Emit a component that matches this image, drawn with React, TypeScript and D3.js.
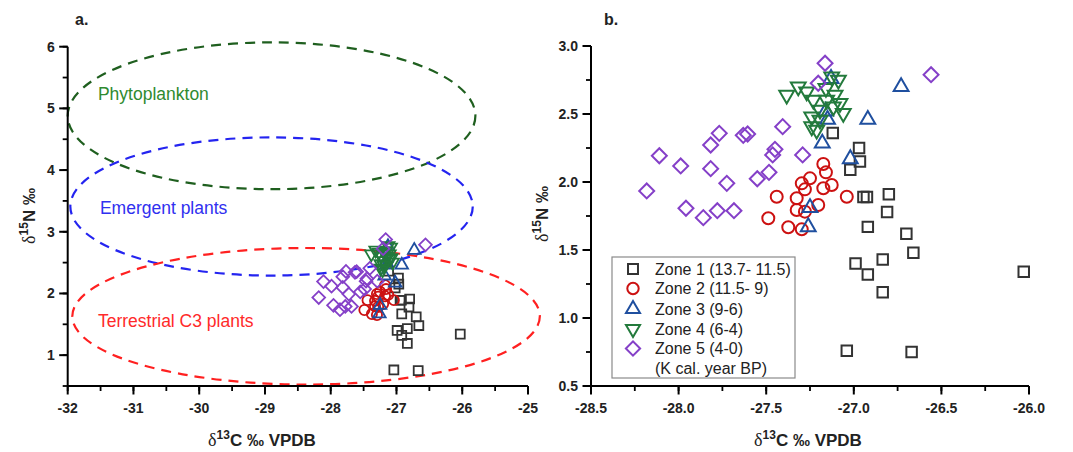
import React from 'react';
import * as d3 from 'd3';

// ---------------- data ----------------
const zone1X = [-27.12, -26.97, -26.965, -27.02, -26.945, -26.925, -26.8, -26.81, -26.92, -26.7, -26.66, -26.835, -26.99, -26.92, -26.835, -26.03, -27.04, -26.67];
const zone1Y = [2.36, 2.25, 2.15, 2.09, 1.89, 1.89, 1.91, 1.78, 1.67, 1.62, 1.48, 1.43, 1.4, 1.32, 1.19, 1.34, 0.76, 0.75];

const zone2X = [-27.174, -27.159, -27.25, -27.297, -27.279, -27.174, -27.126, -27.44, -27.326, -27.203, -27.326, -27.279, -27.488, -27.374, -27.297, -27.04];
const zone2Y = [2.132, 2.071, 2.027, 1.99, 1.946, 1.954, 1.978, 1.892, 1.88, 1.831, 1.794, 1.782, 1.733, 1.667, 1.652, 1.892];

const zone3X = [-26.73, -26.92, -27.18, -27.02, -27.15, -27.16, -27.25, -27.26, -27.13];
const zone3Y = [2.7, 2.46, 2.285, 2.17, 2.46, 2.52, 1.81, 1.67, 2.76];

const zone4X = [-27.383, -27.317, -27.269, -27.126, -27.088, -27.231, -27.193, -27.107, -27.079, -27.24, -27.24, -27.06, -27.155, -27.117, -27.212, -27.159, -27.193];
const zone4Y = [2.64, 2.7, 2.664, 2.774, 2.75, 2.603, 2.529, 2.64, 2.579, 2.48, 2.407, 2.505, 2.603, 2.554, 2.382, 2.69, 2.456];

const zone5X = [-28.182, -28.11, -27.988, -27.817, -27.768, -27.817, -27.725, -27.958, -27.859, -27.779, -27.684, -27.631, -27.606, -27.551, -27.484, -27.463, -27.45, -27.406, -27.292, -27.164, -27.203, -26.559];
const zone5Y = [1.934, 2.193, 2.118, 2.272, 2.358, 2.098, 1.99, 1.807, 1.738, 1.789, 1.789, 2.343, 2.353, 2.024, 2.071, 2.199, 2.24, 2.407, 2.199, 2.873, 2.726, 2.789];

const zoneLabels = ['Zone 1 (13.7- 11.5)', 'Zone 2 (11.5- 9)', 'Zone 3 (9-6)', 'Zone 4 (6-4)', 'Zone 5 (4-0)'];
const legendNote = '(K cal. year BP)';
const zoneColors = ['#333333', '#cc1111', '#1f4f9f', '#237a3c', '#8540c8'];
const zoneShapes = ['square', 'circle', 'triangle', 'triangleDown', 'diamond'];

const regionNames = ['Phytoplankton', 'Emergent plants', 'Terrestrial C3 plants'];
const regionCX = [-28.9, -28.9, -28.375];
const regionCY = [4.88, 3.41, 1.63];
const regionRX = [3.1, 3.06, 3.555];
const regionRY = [1.19, 1.12, 1.107];
const regionLabelX = [-31.54, -31.51, -31.54];
const regionLabelY = [5.13, 3.28, 1.46];
const regionColors = ['#1f5f1f', '#2424f0', '#ff2020'];
const regionTextColors = ['#2f8a2f', '#3030f0', '#ff2a2a'];

const aXTicks = [-32, -31, -30, -29, -28, -27, -26, -25];
const aYTicks = [1, 2, 3, 4, 5, 6];
const bXTicks = [-28.5, -28.0, -27.5, -27.0, -26.5, -26.0];
const bYTicks = [0.5, 1.0, 1.5, 2.0, 2.5, 3.0];

// ---------------- helpers ----------------
const FONT = 'Liberation Sans, Arial, sans-serif';
const SERIF = 'Liberation Serif, Times New Roman, serif';

const zonesX = [zone1X, zone2X, zone3X, zone4X, zone5X];
const zonesY = [zone1Y, zone2Y, zone3Y, zone4Y, zone5Y];

function symbolFor(shape: string, scale: number) {
  let type: any = d3.symbolSquare;
  let size = 110;
  let rot = 0;
  if (shape === 'square') { type = d3.symbolSquare; size = 110; }
  if (shape === 'circle') { type = d3.symbolCircle; size = 113; }
  if (shape === 'triangle') { type = d3.symbolTriangle; size = 95; }
  if (shape === 'triangleDown') { type = d3.symbolTriangle; size = 95; rot = 180; }
  if (shape === 'diamond') { type = d3.symbolSquare; size = 112; rot = 45; }
  const d = d3.symbol().type(type).size(size * scale * scale)() as string;
  return { d, rot };
}

function Marker({ x, y, shape, color, scale, sw }: any) {
  const { d, rot } = symbolFor(shape, scale);
  return (
    <path d={d} transform={`translate(${x},${y}) rotate(${rot})`} fill="none" stroke={color} strokeWidth={sw} />
  );
}

function XAxis({ scale, y, ticks, fmt, minorStep }: any) {
  const [d0, d1] = scale.domain();
  const minors: number[] = [];
  for (let v = d0; v <= d1 + 1e-9; v += minorStep) minors.push(+v.toFixed(4));
  return (
    <g>
      <line x1={scale.range()[0]} x2={scale.range()[1]} y1={y} y2={y} stroke="#000" strokeWidth={2} />
      {minors.map((v, i) => (
        <line key={'m' + i} x1={scale(v)} x2={scale(v)} y1={y} y2={y + 5} stroke="#000" strokeWidth={1.8} />
      ))}
      {ticks.map((v: number, i: number) => (
        <g key={i}>
          <line x1={scale(v)} x2={scale(v)} y1={y} y2={y + 8.5} stroke="#000" strokeWidth={2} />
          <text x={scale(v)} y={y + 27} textAnchor="middle" fontFamily={FONT} fontWeight="bold" fontSize={14} fill="#222">{fmt(v)}</text>
        </g>
      ))}
    </g>
  );
}

function YAxis({ scale, x, ticks, fmt, minorStep }: any) {
  const [d0, d1] = scale.domain();
  const minors: number[] = [];
  for (let v = d0; v <= d1 + 1e-9; v += minorStep) minors.push(+v.toFixed(4));
  return (
    <g>
      <line x1={x} x2={x} y1={scale.range()[0]} y2={scale.range()[1]} stroke="#000" strokeWidth={2} />
      {minors.map((v, i) => (
        <line key={'m' + i} x1={x - 5} x2={x} y1={scale(v)} y2={scale(v)} stroke="#000" strokeWidth={1.8} />
      ))}
      {ticks.map((v: number, i: number) => (
        <g key={i}>
          <line x1={x - 8.5} x2={x} y1={scale(v)} y2={scale(v)} stroke="#000" strokeWidth={2} />
          <text x={x - 13} y={scale(v) + 5} textAnchor="end" fontFamily={FONT} fontWeight="bold" fontSize={14} fill="#222">{fmt(v)}</text>
        </g>
      ))}
    </g>
  );
}

function XTitle({ x, y }: any) {
  return (
    <text x={x} y={y} textAnchor="middle" fontFamily={FONT} fontWeight="bold" fontSize={17} fill="#222">
      <tspan fontFamily={SERIF} fontWeight="normal" fontSize={18}>δ</tspan>
      <tspan dy={-7} fontSize={12}>13</tspan>
      <tspan dy={7}>C ‰ VPDB</tspan>
    </text>
  );
}

function YTitle({ x, y }: any) {
  return (
    <text transform={`translate(${x},${y}) rotate(-90)`} textAnchor="middle" fontFamily={FONT} fontWeight="bold" fontSize={17} fill="#222">
      <tspan fontFamily={SERIF} fontWeight="normal" fontSize={18}>δ</tspan>
      <tspan dy={-7} fontSize={12}>15</tspan>
      <tspan dy={7}>N ‰</tspan>
    </text>
  );
}

function Points({ xs, ys, markerScale, sw }: any) {
  return (
    <g>
      {zonesX.map((zx, zi) =>
        zx.map((v, i) => (
          <Marker key={zi + '-' + i} x={xs(v)} y={ys(zonesY[zi][i])} shape={zoneShapes[zi]} color={zoneColors[zi]} scale={markerScale} sw={sw} />
        ))
      )}
    </g>
  );
}

export default function App() {
  const xA = d3.scaleLinear().domain([-32, -25]).range([67.7, 528]);
  const yA = d3.scaleLinear().domain([0.5, 6]).range([386, 46.7]);
  const xB = d3.scaleLinear().domain([-28.5, -26]).range([591, 1029]);
  const yB = d3.scaleLinear().domain([0.5, 3]).range([386, 46]);

  const legendX = 612;
  const legendY = 257;
  const legendRows = [269, 288.5, 309, 329, 348.5];

  return (
    <svg width={1073} height={452} style={{ position: 'absolute', left: 0, top: 0, background: '#fff' }}>
      <rect x={0} y={0} width={1073} height={452} fill="#fff" />
      {/* Panel a */}
      <text x={75} y={25} fontFamily={FONT} fontWeight="bold" fontSize={16} fill="#222">a.</text>
      {regionNames.map((n, i) => {
        const cx = xA(regionCX[i]);
        const cy = yA(regionCY[i]);
        const rx = xA(regionCX[i] + regionRX[i]) - cx;
        const ry = cy - yA(regionCY[i] + regionRY[i]);
        return (
          <g key={n}>
            <ellipse cx={cx} cy={cy} rx={rx} ry={ry} fill="none" stroke={regionColors[i]} strokeWidth={2.2} strokeDasharray="10 7" />
          </g>
        );
      })}
      {regionNames.map((n, i) => (
        <text key={'t' + n} x={xA(regionLabelX[i])} y={yA(regionLabelY[i])} fontFamily={FONT} fontSize={17.5} fill={regionTextColors[i]}>{n}</text>
      ))}
      <Points xs={xA} ys={yA} markerScale={0.85} sw={1.8} />
      <XAxis scale={xA} y={386} ticks={aXTicks} fmt={(v: number) => String(v)} minorStep={0.5} />
      <YAxis scale={yA} x={67.7} ticks={aYTicks} fmt={(v: number) => String(v)} minorStep={0.5} />
      <XTitle x={262} y={446} />
      <YTitle x={35} y={216} />

      {/* Panel b */}
      <text x={604} y={25} fontFamily={FONT} fontWeight="bold" fontSize={16} fill="#222">b.</text>
      <Points xs={xB} ys={yB} markerScale={1} sw={2} />
      <XAxis scale={xB} y={386} ticks={bXTicks} fmt={(v: number) => v.toFixed(1)} minorStep={0.25} />
      <YAxis scale={yB} x={591} ticks={bYTicks} fmt={(v: number) => v.toFixed(1)} minorStep={0.25} />
      <XTitle x={808} y={446} />
      <YTitle x={548} y={214} />

      {/* Legend */}
      <rect x={legendX} y={legendY} width={183} height={121} fill="#fff" stroke="#8a8a8a" strokeWidth={1.2} />
      {zoneLabels.map((l, i) => (
        <g key={l}>
          <Marker x={633} y={legendRows[i]} shape={zoneShapes[i]} color={zoneColors[i]} scale={0.95} sw={2} />
          <text x={655} y={legendRows[i] + 5.5} fontFamily={FONT} fontSize={16} fill="#222">{l}</text>
        </g>
      ))}
      <text x={655} y={368 + 5.5} fontFamily={FONT} fontSize={16} fill="#222">{legendNote}</text>
    </svg>
  );
}
